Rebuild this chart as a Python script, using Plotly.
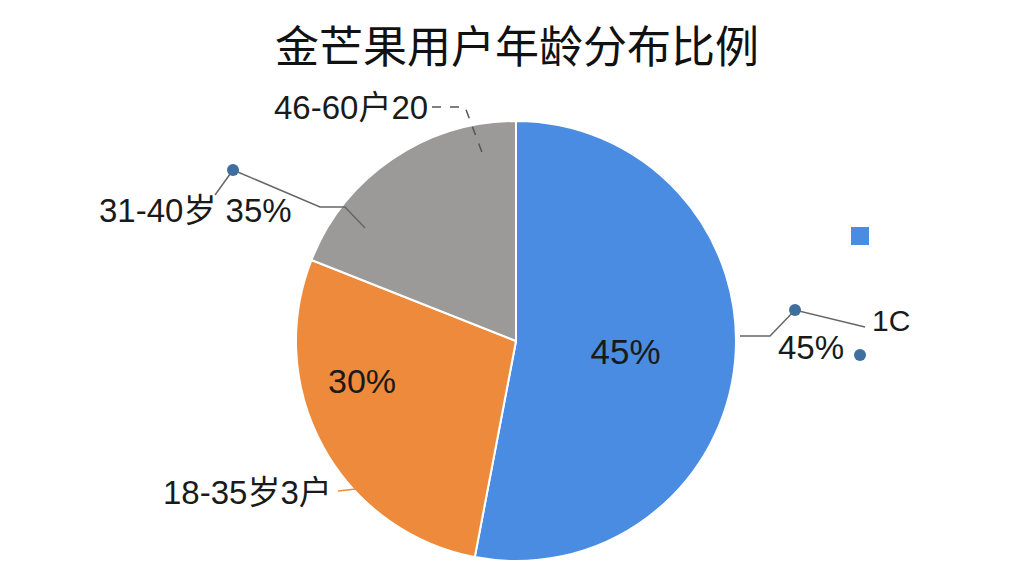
import plotly.graph_objects as go

groups = ["46-60岁", "18-35岁", "31-40岁"]
shares = [53, 28, 19]
inside_text = ["45%", "", ""]
colors = ["#4A8CE2", "#EE8A3C", "#9B9A98"]
title_text = "金芒果用户年龄分布比例"

W, H = 1024, 576
OFF = 8  # page body margin
FONT = "Liberation Sans, Noto Sans CJK SC, sans-serif"
CJK = "Noto Sans CJK SC, sans-serif"


def px(x, y):
    # screen pixel position -> paper coordinates (margins are zero)
    return (x - OFF) / W, 1 - (y - OFF) / H


dx0, dy0 = px(296, 561)
dx1, dy1 = px(736, 121)
fig = go.Figure(go.Pie(
    labels=groups,
    values=shares,
    text=inside_text,
    textinfo="text",
    textposition="inside",
    insidetextorientation="horizontal",
    textfont=dict(size=35, color="#1a1a1a", family=FONT),
    marker=dict(colors=colors, line=dict(color="white", width=2)),
    sort=False,
    direction="clockwise",
    rotation=0,
    showlegend=False,
    domain=dict(x=[dx0, dx1], y=[dy0, dy1]),
))

# labels drawn by hand
labels_out = [
    ("30%", 362, 381, "center", 34),
    ("46-60户20", 430, 107, "right", 33),
    ("31-40岁 35%", 294, 210, "right", 33),
    ("18-35岁3户", 334, 492, "right", 33),
    ("45%", 776, 347, "left", 33),
    ("1C", 870, 320, "left", 30),
]
for txt, x, y, anchor, size in labels_out:
    ax, ay = px(x, y)
    fig.add_annotation(x=ax, y=ay, xref="paper", yref="paper", text=txt,
                       showarrow=False, xanchor=anchor, yanchor="middle",
                       font=dict(size=size, color="#1a1a1a", family=FONT))

# title
tx, ty = px(517, 44)
fig.add_annotation(x=tx, y=ty, xref="paper", yref="paper", text=title_text,
                   showarrow=False, xanchor="center", yanchor="middle",
                   font=dict(size=44, color="#111111", family=CJK))

# leader lines
paths = [
    ([(432, 107), (465, 107), (483, 155)], "#555555", "dash"),
    ([(233, 170), (320, 207), (345, 207), (365, 228)], "#666666", "solid"),
    ([(233, 170), (215, 195)], "#666666", "solid"),
    ([(338, 491), (365, 488)], "#EE8A3C", "solid"),
    ([(740, 336), (770, 336), (795, 310), (865, 327)], "#666666", "solid"),
]
for pts, col, dash in paths:
    d = "M " + " L ".join(f"{px(x, y)[0]},{px(x, y)[1]}" for x, y in pts)
    fig.add_shape(type="path", path=d, xref="paper", yref="paper",
                  line=dict(color=col, width=1.5, dash=dash))

# dots
for x, y in [(233, 170), (795, 310), (860, 355)]:
    x0, y0 = px(x - 6, y + 6)
    x1, y1 = px(x + 6, y - 6)
    fig.add_shape(type="circle", xref="paper", yref="paper",
                  x0=x0, y0=y0, x1=x1, y1=y1,
                  fillcolor="#3E6F9E", line=dict(width=0))

# lone legend square
sx0, sy0 = px(851, 245)
sx1, sy1 = px(869, 227)
fig.add_shape(type="rect", xref="paper", yref="paper",
              x0=sx0, y0=sy0, x1=sx1, y1=sy1,
              fillcolor="#4A8CE2", line=dict(width=0))

fig.update_layout(
    width=W, height=H,
    margin=dict(l=0, r=0, t=0, b=0),
    paper_bgcolor="white",
    plot_bgcolor="white",
)

fig.write_html("out.html")
